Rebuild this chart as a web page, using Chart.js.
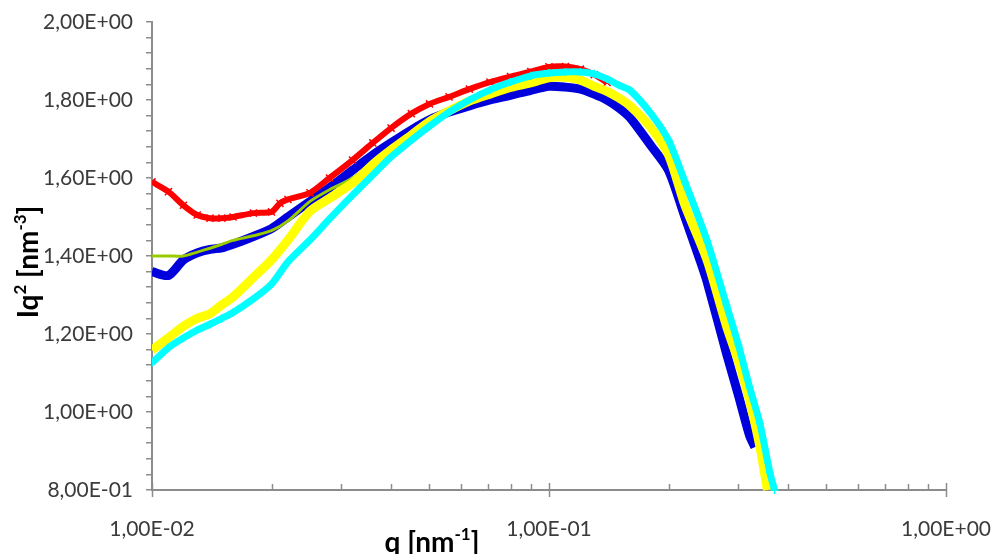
<!DOCTYPE html>
<html>
<head>
<meta charset="utf-8">
<script src="https://cdn.jsdelivr.net/npm/chart.js@4.4.0/dist/chart.umd.min.js"></script>
<style>
  html, body { margin: 0; padding: 0; background: #fff; }
  #wrap { width: 992px; height: 554px; position: relative; }
</style>
</head>
<body>
<div id="wrap"><canvas id="chart"></canvas></div>
<script>
// values (q in nm^-1, Iq^2 in nm^-3)
const qRed = [0.010, 0.011, 0.012, 0.013, 0.014, 0.015, 0.016, 0.018, 0.020, 0.021, 0.022, 0.025, 0.028,
  0.032, 0.036, 0.040, 0.045, 0.050, 0.056, 0.063, 0.071, 0.080, 0.090, 0.10, 0.11, 0.12, 0.13, 0.14];
const iqRed = [1.59, 1.565, 1.53, 1.505, 1.497, 1.497, 1.50, 1.51, 1.513, 1.535, 1.545, 1.562, 1.60,
  1.646, 1.69, 1.728, 1.765, 1.79, 1.808, 1.828, 1.846, 1.86, 1.873, 1.885, 1.886, 1.879, 1.865, 1.845];

const qBlue = [0.010, 0.011, 0.012, 0.013, 0.014, 0.015, 0.016, 0.018, 0.020, 0.022, 0.025, 0.028, 0.032,
  0.036, 0.040, 0.045, 0.050, 0.056, 0.063, 0.071, 0.080, 0.090, 0.10, 0.11, 0.12, 0.13, 0.14, 0.15,
  0.16, 0.18, 0.20, 0.22, 0.24, 0.25, 0.28, 0.30, 0.32, 0.33];
const iqBlue = [1.36, 1.35, 1.39, 1.408, 1.417, 1.421, 1.43, 1.45, 1.47, 1.50, 1.54, 1.575, 1.62,
  1.659, 1.69, 1.723, 1.749, 1.769, 1.785, 1.80, 1.812, 1.825, 1.835, 1.833, 1.828, 1.815, 1.80, 1.78,
  1.755, 1.685, 1.62, 1.50, 1.39, 1.335, 1.15, 1.043, 0.94, 0.91];

const qGreen = [0.010, 0.011, 0.012, 0.013, 0.014, 0.015, 0.016, 0.018, 0.020, 0.022, 0.025, 0.028, 0.032,
  0.036, 0.040, 0.045, 0.050];
const iqGreen = [1.40, 1.40, 1.40, 1.41, 1.42, 1.43, 1.44, 1.452, 1.465, 1.49, 1.54, 1.57, 1.60,
  1.64, 1.675, 1.70, 1.733];

const qYellow = [0.010, 0.011, 0.012, 0.013, 0.014, 0.015, 0.016, 0.018, 0.020, 0.022, 0.025, 0.028, 0.032,
  0.036, 0.040, 0.045, 0.050, 0.056, 0.063, 0.071, 0.080, 0.090, 0.10, 0.11, 0.12, 0.13, 0.14, 0.15,
  0.16, 0.18, 0.20, 0.22, 0.25, 0.28, 0.30, 0.32, 0.34, 0.355];
const iqYellow = [1.159, 1.19, 1.22, 1.24, 1.252, 1.275, 1.295, 1.345, 1.39, 1.441, 1.515, 1.548, 1.587,
  1.635, 1.672, 1.71, 1.745, 1.772, 1.797, 1.815, 1.832, 1.844, 1.857, 1.858, 1.851, 1.835, 1.822, 1.805,
  1.785, 1.731, 1.659, 1.53, 1.39, 1.22, 1.13, 1.03, 0.91, 0.80];

const qCyan = [0.010, 0.011, 0.012, 0.013, 0.014, 0.015, 0.016, 0.018, 0.020, 0.022, 0.025, 0.028, 0.032,
  0.036, 0.040, 0.045, 0.050, 0.056, 0.063, 0.071, 0.080, 0.090, 0.10, 0.11, 0.12, 0.13, 0.14, 0.15,
  0.16, 0.18, 0.20, 0.22, 0.25, 0.28, 0.30, 0.32, 0.34, 0.36, 0.37];
const iqCyan = [1.126, 1.165, 1.19, 1.21, 1.225, 1.24, 1.255, 1.29, 1.328, 1.385, 1.441, 1.495, 1.556,
  1.608, 1.654, 1.697, 1.733, 1.769, 1.80, 1.826, 1.846, 1.862, 1.869, 1.872, 1.872, 1.867, 1.854, 1.838,
  1.825, 1.767, 1.697, 1.59, 1.44, 1.274, 1.172, 1.064, 0.97, 0.845, 0.80];

const xLabelValues = [0.01, 0.1, 1];
const xMinorValues = [0.02, 0.03, 0.04, 0.05, 0.06, 0.07, 0.08, 0.09, 0.2, 0.3, 0.4, 0.5, 0.6, 0.7, 0.8, 0.9];
const yMin = 0.8, yMax = 2.0, yMinorStep = 0.04, yLabelStep = 0.2;

const axisColor = '#8c8c8c';
const textColor = '#3b3b3b';

function sciLabel(v) {
  const [m, e] = v.toExponential(2).split('e');
  const n = Number(e);
  return m.replace('.', ',') + 'E' + (n < 0 ? '-' : '+') + String(Math.abs(n)).padStart(2, '0');
}

function pts(xs, ys) {
  return xs.map((x, i) => ({ x, y: ys[i] }));
}

function series(label, color, xs, ys, width, extra) {
  return Object.assign({
    label,
    data: pts(xs, ys),
    borderColor: color,
    backgroundColor: color,
    borderWidth: width,
    pointRadius: 0,
    tension: 0.25,
    clip: { left: 0, top: 0, right: 0, bottom: 8 },
  }, extra || {});
}

// draws x tick marks (Excel style: minor ticks inward, major both sides) and the axis titles
const axisExtras = {
  id: 'axisExtras',
  afterDraw(chart) {
    const { ctx, chartArea: a } = chart;
    const x = chart.scales.x;
    ctx.save();
    ctx.strokeStyle = axisColor;
    ctx.lineWidth = 1.5;
    for (const v of xMinorValues) {
      const px = Math.round(x.getPixelForValue(v)) + 0.5;
      ctx.beginPath(); ctx.moveTo(px, a.bottom - 6); ctx.lineTo(px, a.bottom); ctx.stroke();
    }
    for (const v of xLabelValues) {
      const px = Math.round(x.getPixelForValue(v)) + 0.5;
      ctx.beginPath(); ctx.moveTo(px, a.bottom - 7); ctx.lineTo(px, a.bottom + 7); ctx.stroke();
    }

    const drawParts = (parts, cx, cy) => {
      const big = 'bold 28px Lato', small = 'bold 17px Lato';
      let w = 0;
      for (const [t, sup] of parts) { ctx.font = sup ? small : big; w += ctx.measureText(t).width; }
      let cur = cx - w / 2;
      ctx.textBaseline = 'alphabetic';
      for (const [t, sup] of parts) {
        ctx.font = sup ? small : big;
        ctx.fillText(t, cur, sup ? cy - 12 : cy);
        cur += ctx.measureText(t).width;
      }
    };
    ctx.fillStyle = '#000';
    drawParts([['q [nm', false], ['-1', true], [']', false]], 432, 552);
    ctx.translate(38, 262);
    ctx.rotate(-Math.PI / 2);
    drawParts([['Iq', false], ['2', true], [' [nm', false], ['-3', true], [']', false]], 0, 0);
    ctx.restore();
  }
};

new Chart(document.getElementById('chart'), {
  type: 'line',
  data: {
    datasets: [
      series('cyan', '#00ffff', qCyan, iqCyan, 7, { pointRadius: 4, pointStyle: 'cross', pointBorderWidth: 1.5 }),
      series('yellow', '#ffff00', qYellow, iqYellow, 9),
      series('green', '#99cc00', qGreen, iqGreen, 3),
      series('red', '#ff0000', qRed, iqRed, 6, { pointRadius: 5, pointStyle: 'crossRot', pointBorderWidth: 1.5 }),
      series('blue', '#0000dd', qBlue, iqBlue, 9),
    ],
  },
  plugins: [axisExtras],
  options: {
    responsive: true,
    maintainAspectRatio: false,
    animation: false,
    layout: { padding: { left: 0, top: 22, right: 0, bottom: 0 } },
    plugins: { legend: { display: false }, tooltip: { enabled: false } },
    scales: {
      x: {
        type: 'logarithmic',
        min: 0.01,
        max: 1,
        afterBuildTicks: (s) => { s.ticks = xLabelValues.map(v => ({ value: v })); },
        afterFit: (s) => { s.height = 64; s.paddingLeft = 0; s.paddingRight = 46; },
        grid: { display: false },
        border: { display: true, color: axisColor, width: 2 },
        ticks: {
          padding: 19,
          maxRotation: 0,
          autoSkip: false,
          color: textColor,
          font: { family: 'Lato', size: 21 },
          callback: (v) => sciLabel(v),
        },
      },
      y: {
        type: 'linear',
        min: yMin,
        max: yMax,
        afterBuildTicks: (s) => {
          const t = [];
          for (let v = yMin; v <= yMax + 1e-9; v += yMinorStep) t.push({ value: Math.round(v * 100) / 100 });
          s.ticks = t;
        },
        afterFit: (s) => { s.width = 152; s.paddingTop = 0; s.paddingBottom = 0; },
        grid: { drawOnChartArea: false, drawTicks: true, tickLength: 6, color: axisColor, lineWidth: 1.5 },
        border: { display: true, color: axisColor, width: 2 },
        ticks: {
          padding: 13,
          autoSkip: false,
          color: textColor,
          font: { family: 'Lato', size: 21 },
          callback: (v) => {
            const k = v / yLabelStep;
            return Math.abs(k - Math.round(k)) < 1e-6 ? sciLabel(v) : '';
          },
        },
      },
    },
  },
});
</script>
</body>
</html>
